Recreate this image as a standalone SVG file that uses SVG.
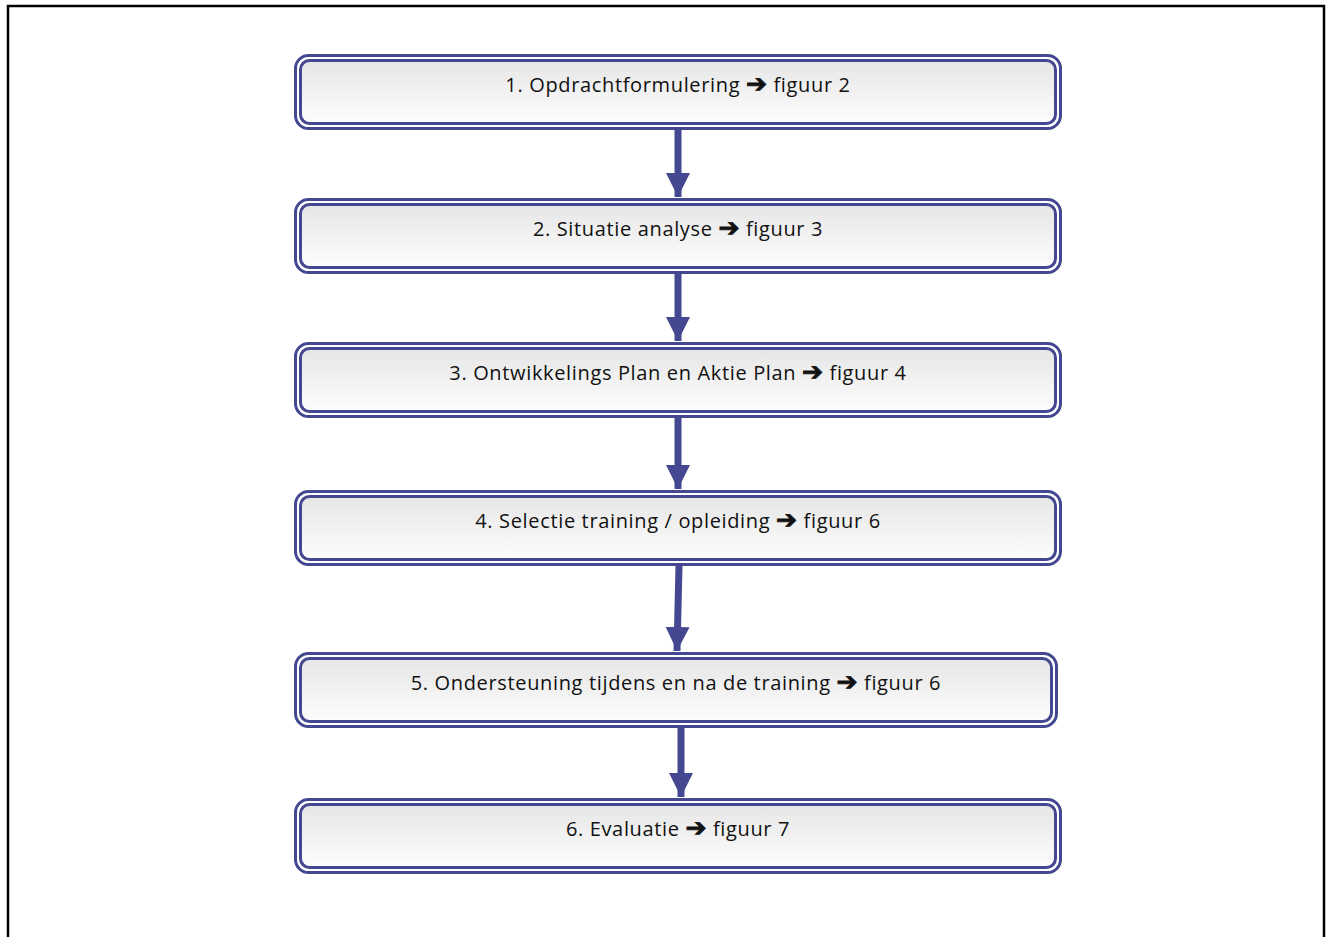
<svg xmlns="http://www.w3.org/2000/svg" width="1330" height="937" viewBox="0 0 1330 937">
  <defs>
    <linearGradient id="boxFill" x1="0" y1="0" x2="0" y2="1">
      <stop offset="0" stop-color="#e6e6e6"/>
      <stop offset="1" stop-color="#fdfdfd"/>
    </linearGradient>
    <marker id="head" viewBox="0 0 24 24" refX="24" refY="12" markerUnits="userSpaceOnUse" markerWidth="24" markerHeight="24" orient="auto">
      <path d="M0,0 L24,12 L0,24 z" fill="#434891"/>
    </marker>
  </defs>
  <style>
    .outer { fill: #ffffff; stroke: #434891; stroke-width: 3; }
    .inner { fill: url(#boxFill); stroke: #434891; stroke-width: 3; }
    .label { font-family: "Open Sans", "Noto Sans", "DejaVu Sans", sans-serif; font-size: 20px; letter-spacing: 0.65px; fill: #111111; text-anchor: middle; }
    .arr { font-family: "DejaVu Sans", sans-serif; font-weight: bold; font-size: 25px; stroke: #111111; stroke-width: 0.9px; }
    .link { stroke: #434891; stroke-width: 7; fill: none; }
  </style>

  <rect width="1330" height="937" fill="#ffffff"/>
  <!-- page frame -->
  <path d="M8,940 L8,6 L1324,6 L1324,940" fill="none" stroke="#000000" stroke-width="2.5"/>

  <g id="connectors">
    <line class="link" x1="678" y1="130" x2="678" y2="197" marker-end="url(#head)"/>
    <line class="link" x1="678" y1="274" x2="678" y2="341" marker-end="url(#head)"/>
    <line class="link" x1="678" y1="418" x2="678" y2="489" marker-end="url(#head)"/>
    <line class="link" x1="679" y1="566" x2="677" y2="651" marker-end="url(#head)"/>
    <line class="link" x1="681" y1="728" x2="681" y2="797" marker-end="url(#head)"/>
  </g>

  <g id="step1">
    <rect class="outer" x="295.5" y="55.5" width="765" height="73" rx="13"/>
    <rect class="inner" x="300.5" y="60.5" width="755" height="63" rx="9"/>
    <text class="label" x="678" y="92">1. Opdrachtformulering <tspan class="arr">➔</tspan> figuur 2</text>
  </g>
  <g id="step2">
    <rect class="outer" x="295.5" y="199.5" width="765" height="73" rx="13"/>
    <rect class="inner" x="300.5" y="204.5" width="755" height="63" rx="9"/>
    <text class="label" x="678" y="236">2. Situatie analyse <tspan class="arr">➔</tspan> figuur 3</text>
  </g>
  <g id="step3">
    <rect class="outer" x="295.5" y="343.5" width="765" height="73" rx="13"/>
    <rect class="inner" x="300.5" y="348.5" width="755" height="63" rx="9"/>
    <text class="label" x="678" y="380">3. Ontwikkelings Plan en Aktie Plan <tspan class="arr">➔</tspan> figuur 4</text>
  </g>
  <g id="step4">
    <rect class="outer" x="295.5" y="491.5" width="765" height="73" rx="13"/>
    <rect class="inner" x="300.5" y="496.5" width="755" height="63" rx="9"/>
    <text class="label" x="678" y="528">4. Selectie training / opleiding <tspan class="arr">➔</tspan> figuur 6</text>
  </g>
  <g id="step5">
    <rect class="outer" x="295.5" y="653.5" width="761" height="73" rx="13"/>
    <rect class="inner" x="300.5" y="658.5" width="751" height="63" rx="9"/>
    <text class="label" x="676" y="690">5. Ondersteuning tijdens en na de training <tspan class="arr">➔</tspan> figuur 6</text>
  </g>
  <g id="step6">
    <rect class="outer" x="295.5" y="799.5" width="765" height="73" rx="13"/>
    <rect class="inner" x="300.5" y="804.5" width="755" height="63" rx="9"/>
    <text class="label" x="678" y="836">6. Evaluatie <tspan class="arr">➔</tspan> figuur 7</text>
  </g>
</svg>
